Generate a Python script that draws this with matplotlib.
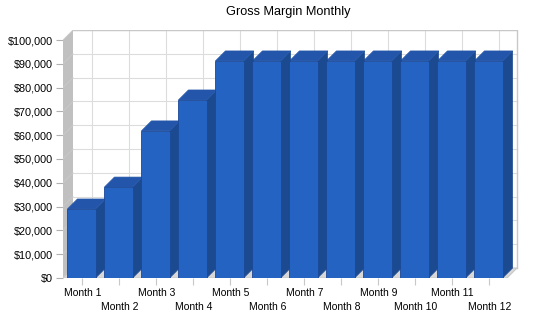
import matplotlib
matplotlib.use("Agg")
import matplotlib.pyplot as plt
from matplotlib.patches import Polygon, Rectangle
from matplotlib.ticker import FuncFormatter

months = ["Month 1", "Month 2", "Month 3", "Month 4", "Month 5", "Month 6",
          "Month 7", "Month 8", "Month 9", "Month 10", "Month 11", "Month 12"]
gross_margin = [29000, 38200, 61800, 74800, 91200, 91200,
                91200, 91200, 91200, 91200, 91200, 91200]
y_ticks = [0, 10000, 20000, 30000, 40000, 50000, 60000, 70000, 80000, 90000, 100000]
title = "Gross Margin Monthly"

W, H = 550, 318
fig = plt.figure(figsize=(W / 100, H / 100), dpi=100)
plt.rcParams['font.family'] = ['Liberation Sans', 'DejaVu Sans']

# pixel geometry
px_left, px_right_back, px_bottom, px_top_back = 63, 519, 278, 30
cat_px = 37.0
depth_px = 10.0
n = len(months)
ymax = 100000
y_per_px = ymax / (278 - 40)

dx = depth_px / cat_px
dy = depth_px * y_per_px
x0, x1 = -0.5, n - 0.5

ax = fig.add_axes([px_left / W, (H - px_bottom) / H,
                   (px_right_back - px_left) / W, (px_bottom - px_top_back) / H])
ax.set_xlim(x0, x0 + (px_right_back - px_left) / cat_px)
ax.set_ylim(0, ymax + dy)
for s in ax.spines.values():
    s.set_visible(False)

grid_c = "#dcdcdc"
wall_c = "#c0c0c0"
# back wall
ax.add_patch(Rectangle((x0 + dx, dy), x1 - x0, ymax, facecolor="white",
                       edgecolor="none", zorder=0))
for yv in y_ticks:
    ax.plot([x0 + dx, x1 + dx], [yv + dy, yv + dy], color=grid_c, lw=0.8, zorder=1)
for i in range(n):
    ax.plot([i + dx, i + dx], [dy, ymax + dy], color=grid_c, lw=0.8, zorder=1)
# back wall border
ax.plot([x0 + dx, x1 + dx, x1 + dx], [ymax + dy, ymax + dy, dy], color="#c8c8c8",
        lw=1.0, zorder=1)
# left side wall
ax.add_patch(Polygon([(x0, 0), (x0 + dx, dy), (x0 + dx, ymax + dy), (x0, ymax)],
                     closed=True, facecolor=wall_c, edgecolor="none", zorder=2))
for yv in y_ticks:
    ax.plot([x0, x0 + dx], [yv, yv + dy], color="#cacaca", lw=0.6, zorder=2)
# floor
ax.add_patch(Polygon([(x0, 0), (x1, 0), (x1 + dx, dy), (x0 + dx, dy)],
                     closed=True, facecolor="#d8d8d8", edgecolor="#c8c8c8",
                     lw=0.8, zorder=2))

# bars
bw = 0.76
front_c = "#2563C2"
top_c = "#2356AA"
side_c = "#1C4A90"
edge_c = "#1B4896"
for i, v in enumerate(gross_margin):
    l, r = i - bw / 2, i + bw / 2
    z = 10 + (n - i) * 0.01
    ax.add_patch(Polygon([(r, 0), (r + dx, dy), (r + dx, v + dy), (r, v)], closed=True,
                         facecolor=side_c, edgecolor=side_c, lw=0.5, zorder=z))
    ax.add_patch(Polygon([(l, v), (r, v), (r + dx, v + dy), (l + dx, v + dy)], closed=True,
                         facecolor=top_c, edgecolor=top_c, lw=0.5, zorder=z))
ax.bar(range(n), gross_margin, width=bw, color=front_c, edgecolor=edge_c,
       linewidth=0.6, zorder=11)

# ticks
ax.set_yticks(y_ticks)
ax.yaxis.set_major_formatter(FuncFormatter(lambda v, p: f"${int(v):,}"))
ax.tick_params(axis="y", length=5, width=0.8, color="#b0b0b0", pad=2,
               labelsize=7.8, labelcolor="black")
ax.set_xticks(range(n))
ax.set_xticklabels([])
ax.tick_params(axis="x", length=5, width=0.8, color="#c8c8c8", direction="out")
for i, m in enumerate(months):
    yoff = -15 if i % 2 == 0 else -29
    ax.annotate(m, xy=(i, 0), xycoords="data", xytext=(1, yoff),
                textcoords="offset pixels", ha="center", va="center",
                fontsize=7.5, color="black", annotation_clip=False)

fig.text(288 / W, 1 - 12 / H, title, ha="center", va="center", fontsize=9.2,
         color="black")

fig.savefig("out.png", dpi=100)
